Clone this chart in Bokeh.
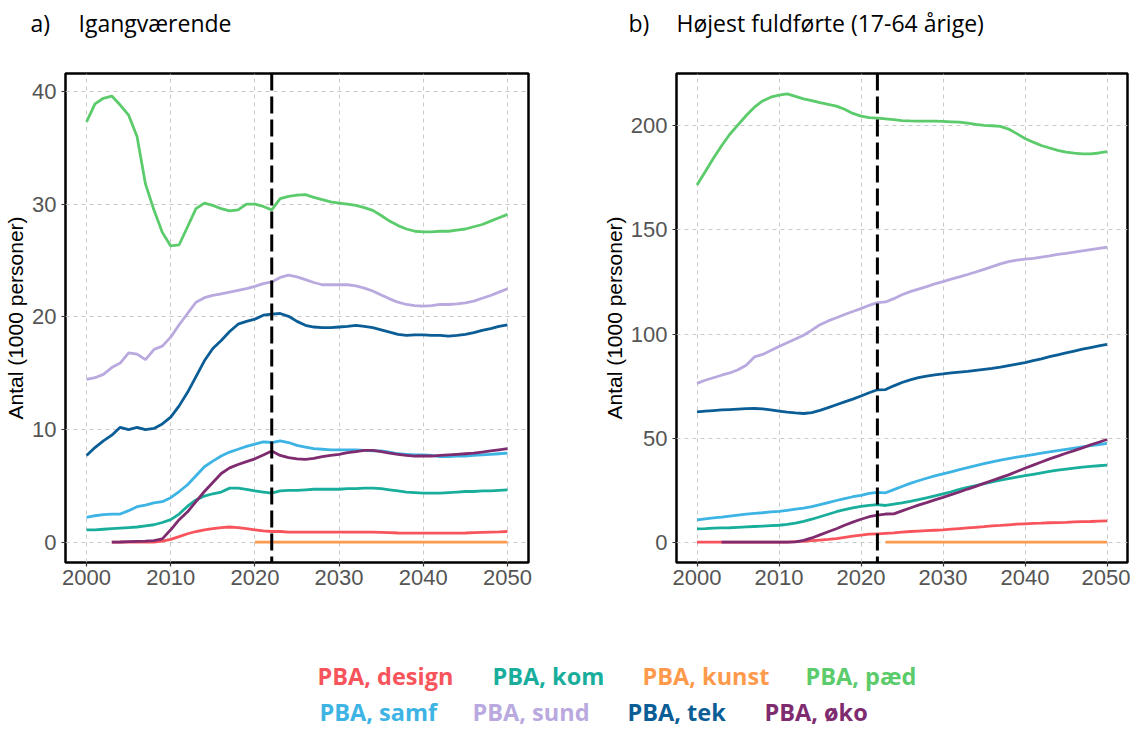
from bokeh.plotting import figure
from bokeh.layouts import row, column
from bokeh.models import Range1d, FixedTicker, Span, ColumnDataSource
from bokeh.embed import file_html
from bokeh.resources import INLINE
from bokeh.core.properties import value

# ---------------- data ----------------
series = ["PBA, design", "PBA, kom", "PBA, kunst", "PBA, pæd",
          "PBA, samf", "PBA, sund", "PBA, tek", "PBA, øko"]
colors = ["#F8545C", "#19AE9C", "#FF9A4D", "#5BCB6B",
          "#3DB4E4", "#B9A9DF", "#0B5D96", "#7E2B6F"]

years_all = list(range(2000, 2051))
years_03 = list(range(2003, 2051))
years_20 = list(range(2020, 2051))
years_23 = list(range(2023, 2051))
split_year = 2022

x_ticks = [2000, 2010, 2020, 2030, 2040, 2050]
y_ticks_a = [0, 10, 20, 30, 40]
y_ticks_b = [0, 50, 100, 150, 200]

titles = [("a)", "Igangværende"), ("b)", "Højest fuldførte (17-64 årige)")]
y_label = "Antal (1000 personer)"

# a) Igangværende (1000 personer)
design_a = [0.0, 0.0, 0.0, 0.0, 0.0, 0.02, 0.1, 0.25, 0.5, 0.75, 0.95, 1.1, 1.2, 1.3, 1.35,
            1.3, 1.2, 1.1, 1.0, 0.95, 0.95, 0.9, 0.9, 0.9, 0.9, 0.9, 0.9, 0.9, 0.9, 0.9,
            0.9, 0.9, 0.88, 0.85, 0.82, 0.8, 0.8, 0.8, 0.8, 0.8, 0.8, 0.81, 0.82, 0.85,
            0.88, 0.9, 0.92, 0.95]
kom_a = [1.1, 1.1, 1.15, 1.2, 1.25, 1.3, 1.35, 1.45, 1.55, 1.75, 2.0, 2.5, 3.2, 3.75, 4.1,
         4.3, 4.45, 4.8, 4.8, 4.7, 4.55, 4.45, 4.35, 4.55, 4.6, 4.6, 4.65, 4.7, 4.7, 4.7,
         4.7, 4.75, 4.75, 4.8, 4.8, 4.75, 4.65, 4.55, 4.45, 4.4, 4.35, 4.35, 4.35, 4.4,
         4.45, 4.5, 4.5, 4.55, 4.55, 4.6, 4.65]
kunst_a = [0.0] * 31
paed_a = [37.3, 38.9, 39.4, 39.6, 38.8, 37.9, 36.0, 31.8, 29.5, 27.5, 26.3, 26.4, 28.0, 29.6,
          30.1, 29.9, 29.6, 29.4, 29.5, 30.0, 30.0, 29.8, 29.5, 30.5, 30.7, 30.8, 30.85, 30.6,
          30.4, 30.2, 30.1, 30.0, 29.9, 29.7, 29.45, 29.0, 28.5, 28.1, 27.8, 27.6, 27.55,
          27.55, 27.6, 27.6, 27.7, 27.8, 28.0, 28.2, 28.5, 28.8, 29.1]
samf_a = [2.2, 2.35, 2.45, 2.5, 2.5, 2.8, 3.15, 3.3, 3.5, 3.6, 3.95, 4.5, 5.1, 5.9, 6.7, 7.2,
          7.65, 8.0, 8.25, 8.5, 8.7, 8.9, 8.85, 9.0, 8.85, 8.6, 8.45, 8.3, 8.25, 8.2, 8.2,
          8.2, 8.2, 8.15, 8.1, 8.1, 8.0, 7.85, 7.8, 7.75, 7.75, 7.7, 7.6, 7.6, 7.65, 7.65,
          7.7, 7.75, 7.8, 7.85, 7.9]
sund_a = [14.45, 14.6, 14.9, 15.5, 15.9, 16.8, 16.7, 16.2, 17.1, 17.4, 18.2, 19.3, 20.3, 21.3,
          21.7, 21.9, 22.05, 22.2, 22.35, 22.5, 22.7, 22.95, 23.1, 23.5, 23.7, 23.55, 23.3,
          23.05, 22.85, 22.85, 22.85, 22.85, 22.75, 22.55, 22.3, 21.95, 21.6, 21.3, 21.1,
          21.0, 20.95, 21.0, 21.1, 21.1, 21.15, 21.25, 21.4, 21.65, 21.9, 22.2, 22.5]
tek_a = [7.7, 8.4, 9.0, 9.5, 10.2, 10.0, 10.2, 10.0, 10.1, 10.5, 11.1, 12.1, 13.3, 14.7, 16.1,
         17.2, 17.9, 18.7, 19.35, 19.6, 19.8, 20.15, 20.25, 20.3, 20.05, 19.6, 19.25, 19.1,
         19.05, 19.05, 19.1, 19.15, 19.25, 19.15, 19.05, 18.85, 18.65, 18.45, 18.35, 18.4,
         18.4, 18.35, 18.35, 18.3, 18.35, 18.45, 18.6, 18.8, 18.95, 19.15, 19.3]
oko_a = [0.0, 0.02, 0.05, 0.08, 0.1, 0.15, 0.3, 1.1, 2.0, 2.7, 3.6, 4.5, 5.3, 6.1, 6.6, 6.9,
         7.15, 7.4, 7.75, 8.1, 7.7, 7.5, 7.4, 7.35, 7.45, 7.6, 7.7, 7.8, 7.95, 8.05, 8.15,
         8.15, 8.05, 7.9, 7.8, 7.7, 7.65, 7.65, 7.65, 7.7, 7.75, 7.8, 7.85, 7.9, 8.0, 8.1,
         8.2, 8.3]

# b) Højest fuldførte (17-64 årige) (1000 personer)
design_b = [0.0] * 12 + [0.2, 0.4, 0.7, 1.0, 1.3, 1.7, 2.3, 2.9, 3.4, 3.8, 4.0, 4.2, 4.4, 4.8,
                         5.1, 5.3, 5.5, 5.7, 5.9, 6.2, 6.5, 6.8, 7.1, 7.4, 7.8, 8.0, 8.3, 8.6,
                         8.8, 9.0, 9.1, 9.3, 9.4, 9.5, 9.7, 9.8, 9.9, 10.1, 10.2]
kom_b = [6.4, 6.5, 6.7, 6.8, 6.9, 7.1, 7.3, 7.5, 7.7, 7.9, 8.1, 8.5, 9.1, 10.0, 11.0, 12.2,
         13.4, 14.6, 15.6, 16.4, 17.2, 17.7, 18.0, 17.6, 18.3, 18.9, 19.6, 20.4, 21.3, 22.2,
         23.2, 24.2, 25.3, 26.3, 27.2, 28.1, 29.0, 29.8, 30.5, 31.2, 31.9, 32.6, 33.3, 34.0,
         34.6, 35.1, 35.6, 36.0, 36.4, 36.7, 37.0]
kunst_b = [0.0] * 28
paed_b = [171.6, 178.0, 184.5, 190.5, 196.0, 200.5, 205.0, 209.0, 212.0, 213.8, 214.8, 215.4,
          214.2, 213.0, 212.2, 211.2, 210.4, 209.5, 208.0, 206.0, 204.7, 204.0, 203.8, 203.4,
          203.0, 202.6, 202.4, 202.3, 202.3, 202.3, 202.2, 202.0, 201.8, 201.3, 200.7, 200.3,
          200.1, 199.8, 198.5, 196.3, 194.0, 192.2, 190.6, 189.4, 188.3, 187.4, 186.9, 186.6,
          186.6, 187.0, 187.7]
samf_b = [10.7, 11.2, 11.6, 12.0, 12.5, 13.0, 13.4, 13.8, 14.1, 14.5, 14.8, 15.3, 15.8, 16.3,
          17.1, 18.0, 19.0, 20.0, 20.9, 21.8, 22.5, 23.4, 23.9, 23.7, 25.2, 26.7, 28.2, 29.5,
          30.7, 31.8, 32.8, 33.8, 34.8, 35.8, 36.8, 37.7, 38.6, 39.4, 40.1, 40.8, 41.4, 42.1,
          42.8, 43.4, 44.0, 44.6, 45.2, 45.8, 46.4, 46.9, 47.4]
sund_b = [76.3, 77.8, 79.0, 80.2, 81.3, 82.8, 85.0, 89.0, 90.2, 92.1, 94.0, 95.8, 97.6, 99.4,
          101.9, 104.5, 106.3, 107.8, 109.4, 110.8, 112.2, 113.8, 115.1, 115.4, 117.0, 118.9,
          120.4, 121.6, 122.8, 124.1, 125.2, 126.4, 127.5, 128.6, 129.8, 131.1, 132.4, 133.7,
          134.8, 135.5, 136.0, 136.4, 137.0, 137.6, 138.3, 138.8, 139.4, 140.0, 140.6, 141.2,
          141.7]
tek_b = [62.6, 62.9, 63.2, 63.5, 63.7, 63.9, 64.1, 64.2, 64.0, 63.5, 63.0, 62.5, 62.1, 61.8,
         62.2, 63.3, 64.6, 66.0, 67.4, 68.7, 70.2, 71.8, 73.2, 73.3, 75.1, 76.7, 78.0, 79.0,
         79.8, 80.4, 80.8, 81.3, 81.7, 82.0, 82.5, 83.0, 83.5, 84.1, 84.8, 85.5, 86.3, 87.2,
         88.1, 89.1, 90.0, 90.9, 91.8, 92.7, 93.5, 94.3, 95.0]
oko_b = [0.0] * 9 + [0.1, 0.8, 2.0, 3.5, 5.0, 6.4, 8.1, 9.6, 11.0, 12.2, 13.0, 13.5, 13.6,
                     15.0, 16.4, 17.8, 19.0, 20.3, 21.5, 22.8, 24.1, 25.5, 26.8, 28.2, 29.6,
                     31.0, 32.3, 33.9, 35.5, 37.0, 38.5, 40.0, 41.3, 42.7, 44.0, 45.3, 46.7,
                     48.0, 49.3, 50.6]

panel_a = [(years_03, design_a), (years_all, kom_a), (years_20, kunst_a), (years_all, paed_a),
           (years_all, samf_a), (years_all, sund_a), (years_all, tek_a), (years_03, oko_a)]
panel_b = [(years_all, design_b), (years_all, kom_b), (years_23, kunst_b), (years_all, paed_b),
           (years_all, samf_b), (years_all, sund_b), (years_all, tek_b), (years_03, oko_b)]

# ---------------- styling / layout ----------------
TICK_FONT = "Liberation Sans"
TITLE_FONT = "Open Sans"
HEAD_H = 60
PANEL_H = 550
TOP, BOTTOM = 13, 48
LEG_H = 118
TOTAL_W = 1130


def blank(width, height):
    f = figure(width=width, height=height, x_range=Range1d(0, width),
               y_range=Range1d(0, height), output_backend="svg", toolbar_location=None,
               min_border=0, min_border_left=0, min_border_right=0, min_border_top=0,
               min_border_bottom=0, x_axis_type=None, y_axis_type=None)
    f.outline_line_color = None
    f.grid.visible = False
    f.background_fill_color = "white"
    f.border_fill_color = "white"
    return f


def make_panel(width, left, right, yr, yticks, data):
    p = figure(width=width, height=PANEL_H, x_range=Range1d(1997.5, 2052.5),
               y_range=Range1d(*yr), output_backend="svg", toolbar_location=None,
               min_border_left=left, min_border_right=right,
               min_border_top=TOP, min_border_bottom=BOTTOM)
    p.background_fill_color = "white"
    p.border_fill_color = "white"
    p.outline_line_color = "black"
    p.outline_line_width = 2.5

    p.xaxis.ticker = FixedTicker(ticks=x_ticks, minor_ticks=[])
    p.yaxis.ticker = FixedTicker(ticks=yticks, minor_ticks=[])
    for ax in (p.xaxis, p.yaxis):
        ax.axis_line_color = None
        ax.major_tick_line_color = "#333333"
        ax.major_tick_line_width = 1.2
        ax.major_tick_out = 4
        ax.major_tick_in = 0
        ax.minor_tick_line_color = None
        ax.major_label_text_font = TICK_FONT
        ax.major_label_text_font_size = "22px"
        ax.major_label_text_color = "#555555"
    p.xaxis.major_label_standoff = 3
    p.yaxis.major_label_standoff = 5
    p.yaxis.axis_label = y_label
    p.yaxis.axis_label_text_font = TICK_FONT
    p.yaxis.axis_label_text_font_size = "21px"
    p.yaxis.axis_label_text_font_style = "normal"
    p.yaxis.axis_label_text_color = "black"
    p.yaxis.axis_label_standoff = 2

    for g in (p.xgrid, p.ygrid):
        g.grid_line_color = "#C8C8C8"
        g.grid_line_dash = "4 4"
        g.grid_line_width = 1

    for (xs, ys), c in zip(data, colors):
        src = ColumnDataSource(dict(x=xs, y=ys))
        p.line("x", "y", source=src, line_color=c, line_width=2.8)

    p.add_layout(Span(location=split_year, dimension="height", line_color="black",
                      line_width=3, line_dash="17 6"))
    return p


pa = make_panel(578, 65, 50, (-1.8, 41.6), y_ticks_a, panel_a)
pb = make_panel(552, 98, 3, (-9.8, 225.2), y_ticks_b, panel_b)

# header with panel titles
head = blank(TOTAL_W, HEAD_H)
head_x = [30, 78, 628, 676]
head_text = [titles[0][0], titles[0][1], titles[1][0], titles[1][1]]
hsrc = ColumnDataSource(dict(x=head_x, y=[HEAD_H - 22] * 4, text=head_text))
head.text("x", "y", text="text", source=hsrc, text_color="black",
          text_font=value(TITLE_FONT), text_font_size="23px",
          text_align="left", text_baseline="middle")

# legend
leg = blank(TOTAL_W, LEG_H)
leg_x = [317, 492, 642, 805, 319, 472, 627, 764]
leg_row_y = [LEG_H - 65, LEG_H - 101]
leg_y = [leg_row_y[0]] * 4 + [leg_row_y[1]] * 4
lsrc = ColumnDataSource(dict(x=leg_x, y=leg_y, text=series, color=colors))
leg.text("x", "y", text="text", source=lsrc, text_color="color",
         text_font=value(TITLE_FONT), text_font_style="bold", text_font_size="23.5px",
         text_align="left", text_baseline="middle")

layout = column(head, row(pa, pb), leg)
open("out.html", "w").write(file_html(layout, INLINE))
